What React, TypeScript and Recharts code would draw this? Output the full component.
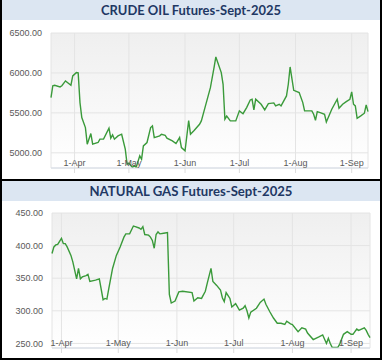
import React from "react";
import { LineChart, Line, XAxis, YAxis, CartesianGrid } from "recharts";

// ---------- data ----------
const xTickDates = ["04-01", "05-01", "06-01", "07-01", "08-01", "09-01"];
const xTickLabels = ["1-Apr", "1-May", "1-Jun", "1-Jul", "1-Aug", "1-Sep"];

const crudeDates = [
  "03-19", "03-20", "03-21", "03-24", "03-25", "03-27", "03-30", "03-31",
  "04-02", "04-03", "04-04", "04-05", "04-07", "04-08", "04-10", "04-11", "04-14", "04-15", "04-17", "04-20", "04-21", "04-22", "04-23", "04-25", "04-27", "04-29", "04-30",
  "05-01", "05-03", "05-04", "05-05", "05-07", "05-08", "05-09", "05-11", "05-13", "05-14", "05-15", "05-18", "05-19", "05-21", "05-22", "05-25", "05-27", "05-29", "05-30",
  "06-01", "06-03", "06-04", "06-06", "06-09", "06-10", "06-12", "06-15", "06-17", "06-18", "06-21", "06-22", "06-23", "06-24", "06-26", "06-29",
  "07-01", "07-03", "07-05", "07-07", "07-08", "07-09", "07-10", "07-13", "07-15", "07-17", "07-20", "07-21", "07-23", "07-24", "07-27", "07-28", "07-29", "07-31",
  "08-03", "08-05", "08-06", "08-10", "08-11", "08-12", "08-13", "08-15", "08-17", "08-18", "08-20", "08-21", "08-24", "08-25", "08-27", "08-29", "08-31",
  "09-01", "09-02", "09-03", "09-04", "09-06", "09-08", "09-09", "09-10",
];
const crudeValues = [
  5690, 5840, 5846, 5825, 5840, 5900, 5846, 5962,
  6004, 6000, 5629, 5441, 5316, 5108, 5241, 5108, 5129, 5171, 5171, 5308, 5183, 5225, 5171, 5212, 5233, 5046, 4858,
  4870, 4816, 4840, 4816, 4962, 4920, 5087, 5129, 5316, 5337, 5191, 5212, 5233, 5220, 5183, 5150, 5116, 5191, 5066,
  5025, 5404, 5233, 5280, 5358, 5400, 5566, 5816, 6066, 6200, 6004, 5858, 5421, 5460, 5400, 5400,
  5525, 5490, 5566, 5662, 5670, 5537, 5671, 5608, 5537, 5616, 5625, 5587, 5608, 5587, 5712, 5858, 6075, 5783,
  5754, 5629, 5525, 5525, 5483, 5408, 5515, 5500, 5483, 5387, 5492, 5545, 5671, 5558, 5608, 5641, 5671,
  5762, 5608, 5587, 5433, 5462, 5496, 5600, 5516,
];
const crudeYTicks = [5000, 5500, 6000, 6500];
const crudeYDomain = [4810, 6500];

const gasDates = [
  "03-27", "03-28", "03-29", "03-30",
  "04-01", "04-02", "04-03", "04-04", "04-06", "04-07", "04-09", "04-10", "04-11", "04-12", "04-14", "04-15", "04-16", "04-19", "04-21", "04-23", "04-24", "04-25", "04-26", "04-28", "04-30",
  "05-02", "05-04", "05-05", "05-07", "05-09", "05-10", "05-12", "05-13", "05-14", "05-15", "05-17", "05-18", "05-19", "05-20", "05-21", "05-22", "05-23", "05-25", "05-27", "05-28", "05-29", "05-31",
  "06-02", "06-04", "06-09", "06-10", "06-12", "06-14", "06-16", "06-17", "06-19", "06-20", "06-22", "06-24", "06-25", "06-26", "06-27", "06-29", "06-30",
  "07-02", "07-04", "07-06", "07-07", "07-08", "07-09", "07-10", "07-13", "07-15", "07-17", "07-18", "07-20", "07-22", "07-24", "07-26", "07-28", "07-29", "07-31",
  "08-01", "08-04", "08-06", "08-08", "08-09", "08-12", "08-15", "08-17", "08-19", "08-20", "08-21", "08-22", "08-25", "08-26", "08-28", "08-30",
  "09-01", "09-02", "09-04", "09-05", "09-08", "09-09", "09-10", "09-11",
];
const gasValues = [
  388, 398, 401, 402,
  411, 403, 403, 398, 385, 375, 349, 365, 349, 352, 354, 356, 345, 347, 349, 317, 319, 318, 334, 365, 385,
  398, 413, 418, 418, 430, 429, 427, 425, 429, 417, 416, 413, 408, 396, 417, 421, 418, 419, 420, 325, 312, 315,
  329, 330, 328, 315, 320, 319, 330, 342, 365, 345, 339, 332, 320, 314, 328, 319, 306,
  311, 301, 304, 308, 300, 289, 298, 304, 313, 318, 310, 299, 289, 281, 281, 279, 284, 280,
  279, 268, 274, 272, 266, 256, 260, 263, 250, 258, 250, 244, 244, 249, 264, 268,
  264, 264, 272, 270, 274, 270, 264, 259,
];
const gasYTicks = [250, 300, 350, 400, 450];
const gasYDomain = [243, 450];

const crudeTitle = "CRUDE OIL Futures-Sept-2025";
const gasTitle = "NATURAL GAS Futures-Sept-2025";

// ---------- helpers ----------
const dayOfYear = (mmdd: string) => {
  const [m, d] = mmdd.split("-").map(Number);
  return (Date.UTC(2025, m - 1, d) - Date.UTC(2025, 0, 0)) / 86400000;
};
const build = (dates: string[], values: number[]) =>
  dates.map((dt, i) => ({ day: dayOfYear(dt), value: values[i] }));

const crudeData = build(crudeDates, crudeValues);
const gasData = build(gasDates, gasValues);
const xTicks = xTickDates.map(dayOfYear);
const xLabelOf = (v: number) => xTickLabels[xTicks.indexOf(v)] ?? "";

const FONT = "'Liberation Sans', Arial, sans-serif";
const LABEL = "#595959";
const GREEN = "#3a9a3a";
const BAND = "#dce6f2";
const NAVY = "#1f3864";

const TICK_SIZE = 5;
const TICK_MARGIN = 2;

const XTick = (props: any) => {
  const { x, y, payload } = props;
  // label is drawn just above the axis line, inside the plot
  const baseline = y - TICK_SIZE - TICK_MARGIN - 2.5;
  return (
    <text x={x} y={baseline} textAnchor="middle" fontSize={9} fontFamily={FONT} fill={LABEL}>
      {xLabelOf(payload.value)}
    </text>
  );
};

type PanelProps = {
  id: string;
  data: { day: number; value: number }[];
  yDomain: number[];
  yTicks: number[];
  margin: { top: number; right: number; left: number; bottom: number };
  yWidth: number;
};

const Panel = ({ id, data, yDomain, yTicks, margin, yWidth }: PanelProps) => (
  <LineChart width={383} height={159} data={data} margin={margin}>
    <defs>
      <linearGradient id={id} x1="0" y1="0" x2="0" y2="1">
        <stop offset="0%" stopColor="#efefef" />
        <stop offset="100%" stopColor="#ffffff" />
      </linearGradient>
    </defs>
    <CartesianGrid stroke="#e4e4e4" fill={`url(#${id})`} fillOpacity={1} />
    <XAxis
      dataKey="day"
      type="number"
      domain={["dataMin", "dataMax"]}
      ticks={xTicks}
      interval={0}
      height={11}
      axisLine={{ stroke: "#d6dde8" }}
      tickLine={{ stroke: "#dcdcdc" }}
      tickSize={TICK_SIZE}
      tickMargin={TICK_MARGIN}
      tick={<XTick />}
    />
    <YAxis
      type="number"
      domain={yDomain}
      ticks={yTicks}
      interval={0}
      width={yWidth}
      axisLine={false}
      tickLine={false}
      tickMargin={3}
      tickFormatter={(v: number) => v.toFixed(2)}
      tick={{ fontSize: 9, fontFamily: FONT, fill: LABEL }}
      allowDataOverflow
    />
    <Line
      type="linear"
      dataKey="value"
      stroke={GREEN}
      strokeWidth={1.4}
      dot={false}
      isAnimationActive={false}
    />
  </LineChart>
);

const Title = ({ text, top, length }: { text: string; top: number; length: number }) => (
  <div style={{ position: "absolute", left: 2, top, width: 378, height: 20, background: BAND }}>
    <svg width={378} height={20} style={{ display: "block" }}>
      <text
        x={189}
        y={15}
        textAnchor="middle"
        fontFamily="Lato, 'Open Sans', sans-serif"
        fontWeight={700}
        fontSize={14}
        fill={NAVY}
        textLength={length}
        lengthAdjust="spacingAndGlyphs"
      >
        {text}
      </text>
    </svg>
  </div>
);

export default function App() {
  return (
    <div style={{ position: "absolute", left: 0, top: 0, width: 383, height: 362, background: "#fff" }}>
      <Title text={crudeTitle} top={0} length={180} />
      <div style={{ position: "absolute", left: 0, top: 20 }}>
        <Panel
          id="gradCrude"
          data={crudeData}
          yDomain={crudeYDomain}
          yTicks={crudeYTicks}
          margin={{ top: 13, right: 15, left: 1, bottom: 0 }}
          yWidth={50}
        />
      </div>
      <div style={{ position: "absolute", left: 0, top: 179, width: 382, height: 2, background: "#000" }} />
      <Title text={gasTitle} top={181} length={203} />
      <div style={{ position: "absolute", left: 0, top: 200 }}>
        <Panel
          id="gradGas"
          data={gasData}
          yDomain={gasYDomain}
          yTicks={gasYTicks}
          margin={{ top: 13, right: 13, left: 1, bottom: 0 }}
          yWidth={51}
        />
      </div>
      <div
        style={{
          position: "absolute",
          left: 0,
          top: 0,
          width: 382,
          height: 360,
          boxSizing: "border-box",
          borderLeft: "2px solid #000",
          borderRight: "2px solid #000",
          borderBottom: "2px solid #000",
          pointerEvents: "none",
        }}
      />
    </div>
  );
}
